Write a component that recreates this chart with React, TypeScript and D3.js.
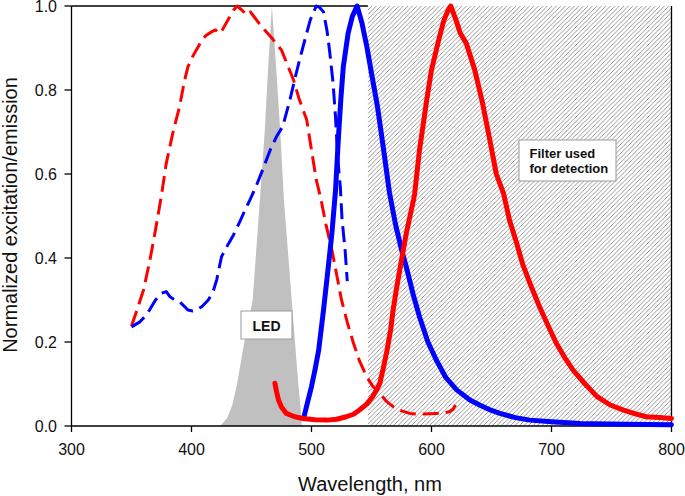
import React from "react";
import * as d3 from "d3";

type P = [number, number];

const xTicks = [300, 400, 500, 600, 700, 800];
const yTicks = [0, 0.2, 0.4, 0.6, 0.8, 1.0];

const filterRange: [number, number] = [547, 800];

const ledSpectrum: P[] = [
  [424, 0], [430, 0.02], [434, 0.05], [438, 0.1], [444, 0.2], [451, 0.3], [457, 0.54],
  [461, 0.7], [464, 0.86], [467, 1.0], [470.4, 0.86], [474, 0.7], [477, 0.54],
  [483.5, 0.3], [489, 0.1], [491, 0.04], [492, 0],
];

const redExcitation: P[] = [
  [350, 0.238], [355, 0.28], [360, 0.324], [365, 0.39], [370, 0.467], [375, 0.55], [379, 0.626],
  [385, 0.705], [390, 0.76], [394, 0.82], [397, 0.855], [401, 0.88], [404, 0.895], [408, 0.915],
  [412, 0.93], [417, 0.939], [420, 0.943], [423, 0.935], [425, 0.939], [428, 0.955], [432, 0.975],
  [435, 0.99], [438, 1.0], [442, 0.99], [446, 0.979], [449, 0.986], [452, 0.975], [456, 0.96],
  [461, 0.943], [468, 0.92], [475, 0.895], [480, 0.86], [485, 0.824], [490, 0.776], [496, 0.729],
  [500, 0.657], [504, 0.586], [508, 0.538], [512, 0.48], [517, 0.419], [521, 0.36], [525, 0.3],
  [530, 0.245], [535, 0.197], [540, 0.155], [546, 0.117], [551, 0.095], [557, 0.078], [562, 0.06],
  [568, 0.046], [575, 0.036], [582, 0.03], [590, 0.028], [598, 0.029], [604, 0.03], [610, 0.031],
  [615, 0.034], [618, 0.04], [620, 0.05],
];

const blueExcitation: P[] = [
  [350, 0.236], [357, 0.248], [361, 0.26], [365, 0.276], [370, 0.3], [375, 0.316], [379, 0.32],
  [382, 0.308], [386, 0.3], [390, 0.296], [394, 0.285], [397, 0.276], [401, 0.274], [404, 0.276],
  [409, 0.285], [414, 0.3], [418, 0.32], [421, 0.348], [425, 0.403], [430, 0.43], [435, 0.455],
  [440, 0.485], [444, 0.51], [449, 0.54], [454, 0.572], [460, 0.615], [466, 0.66], [471, 0.69],
  [476, 0.713], [482, 0.776], [486, 0.825], [490, 0.871], [495, 0.925], [499, 0.967], [504, 1.0],
  [507, 0.996], [510, 0.986], [513, 0.94], [515, 0.895], [518, 0.816], [520, 0.736], [522, 0.633],
  [524, 0.57], [525.5, 0.49], [528, 0.419], [529.8, 0.345],
];

const blueEmission: P[] = [
  [494, 0.025], [497, 0.06], [500, 0.094], [503, 0.135], [506, 0.181], [510, 0.276], [514, 0.379],
  [517, 0.459], [520, 0.56], [522.5, 0.69], [524.5, 0.78], [526.5, 0.855], [530.5, 0.935],
  [534, 0.975], [538, 1.0], [542, 0.96], [546, 0.905], [550, 0.84], [555, 0.76], [560, 0.66],
  [565, 0.555], [570, 0.48], [575, 0.42], [579, 0.379], [585, 0.31], [590, 0.26], [597, 0.2],
  [604, 0.157], [612, 0.115], [621, 0.086], [632, 0.062], [640, 0.05], [650, 0.037], [657, 0.03],
  [670, 0.02], [682, 0.014], [700, 0.01], [724, 0.006], [760, 0.004], [800, 0.003],
];

const redEmission: P[] = [
  [469.5, 0.102], [471, 0.08], [472.5, 0.062], [475, 0.045], [479, 0.03], [486, 0.022], [493, 0.018],
  [503, 0.015], [513, 0.014], [521, 0.016], [529, 0.022], [535, 0.028], [540, 0.038], [546, 0.052],
  [551, 0.07], [555, 0.09], [557, 0.102], [560, 0.14], [563, 0.181], [566, 0.23], [568, 0.276],
  [571, 0.33], [574, 0.379], [579, 0.459], [585, 0.538], [586, 0.554], [590, 0.657], [596, 0.776],
  [600, 0.848], [606, 0.919], [610, 0.963], [613, 0.985], [616, 1.0], [620, 0.97], [624, 0.935],
  [629, 0.911], [636, 0.848], [642, 0.776], [648, 0.69], [654, 0.6], [660, 0.554], [665, 0.49],
  [671, 0.435], [676, 0.385], [682, 0.34], [690, 0.284], [697, 0.24], [704, 0.197], [711, 0.163],
  [718, 0.133], [728, 0.1], [738, 0.07], [749, 0.05], [760, 0.038], [770, 0.029], [779, 0.022],
  [790, 0.02], [800, 0.018],
];

const W = 685;
const H = 496;
const FONT = "Arial, 'Liberation Sans', Helvetica, sans-serif";

export default function App() {
  const x = d3.scaleLinear().domain([300, 800]).range([71.5, 671.5]);
  const y = d3.scaleLinear().domain([0, 1]).range([426, 6]);

  const line = d3.line<P>().x((d) => x(d[0])).y((d) => y(d[1]));
  const area = d3.area<P>().x((d) => x(d[0])).y0(y(0)).y1((d) => y(d[1]));

  const [x0, x1] = x.range();
  const [yb, yt] = y.range();

  return (
    <svg
      width={W}
      height={H}
      viewBox={`0 0 ${W} ${H}`}
      style={{ position: "absolute", left: 0, top: 0, display: "block", background: "#fff" }}
      fontFamily={FONT}
    >
      <defs>
        <pattern id="hatch" patternUnits="userSpaceOnUse" width={4.5} height={4.5}>
          <path d="M0,4.5 L4.5,0 M-1,1 L1,-1 M3.5,5.5 L5.5,3.5" stroke="#6a6a6a" strokeWidth={0.7} />
        </pattern>
      </defs>

      {/* filter region */}
      <rect
        x={x(filterRange[0])}
        y={yt}
        width={x(filterRange[1]) - x(filterRange[0])}
        height={yb - yt}
        fill="url(#hatch)"
      />

      {/* LED */}
      <path d={area(ledSpectrum) || ""} fill="#c0c0c0" />

      {/* frame */}
      <line x1={x0} x2={x(filterRange[0])} y1={yt} y2={yt} stroke="#000" strokeWidth={1.3} />
      <line x1={x1} x2={x1} y1={yt} y2={yb} stroke="#000" strokeWidth={1.3} />
      <line x1={x0} x2={x0} y1={yt} y2={yb} stroke="#000" strokeWidth={1.3} />
      <line x1={x0} x2={x1} y1={yb} y2={yb} stroke="#000" strokeWidth={1.3} />

      {/* curves */}
      <path d={line(redExcitation) || ""} fill="none" stroke="#ff0000" strokeWidth={3} strokeDasharray="16,7" strokeLinejoin="round" />
      <path d={line(blueExcitation) || ""} fill="none" stroke="#0000ff" strokeWidth={3} strokeDasharray="16,7" strokeLinejoin="round" />
      <path d={line(blueEmission) || ""} fill="none" stroke="#0000ff" strokeWidth={5} strokeLinejoin="round" strokeLinecap="round" />
      <path d={line(redEmission) || ""} fill="none" stroke="#ff0000" strokeWidth={5} strokeLinejoin="round" strokeLinecap="round" />

      {/* x axis ticks */}
      {xTicks.map((t) => (
        <g key={"x" + t}>
          <line x1={x(t)} x2={x(t)} y1={yb} y2={yb + 6} stroke="#000" strokeWidth={1.3} />
          <text x={x(t)} y={455} textAnchor="middle" fontSize={16} fill="#111">
            {t}
          </text>
        </g>
      ))}
      {yTicks.map((t) => (
        <g key={"y" + t}>
          <line x1={x0 - 7} x2={x0} y1={y(t)} y2={y(t)} stroke="#000" strokeWidth={1.3} />
          <text x={57} y={y(t) + 5.8} textAnchor="end" fontSize={16} fill="#111">
            {t.toFixed(1)}
          </text>
        </g>
      ))}

      {/* axis titles */}
      <text x={370} y={491} textAnchor="middle" fontSize={20} fill="#111">
        Wavelength, nm
      </text>
      <text
        transform={`translate(17,215) rotate(-90)`}
        textAnchor="middle"
        fontSize={20}
        fill="#111"
      >
        Normalized excitation/emission
      </text>

      {/* LED label */}
      <rect x={241} y={311} width={51} height={28} fill="#fff" stroke="#999" strokeWidth={1} />
      <text x={266.5} y={331} textAnchor="middle" fontSize={14} fontWeight="bold" fill="#111">
        LED
      </text>

      {/* Filter label */}
      <rect x={519} y={140} width={97} height={41} fill="#fff" stroke="#999" strokeWidth={1} />
      <text x={529.5} y={158} fontSize={13} fontWeight="bold" fill="#111">
        Filter used
      </text>
      <text x={529.5} y={173} fontSize={13} fontWeight="bold" fill="#111">
        for detection
      </text>
    </svg>
  );
}
